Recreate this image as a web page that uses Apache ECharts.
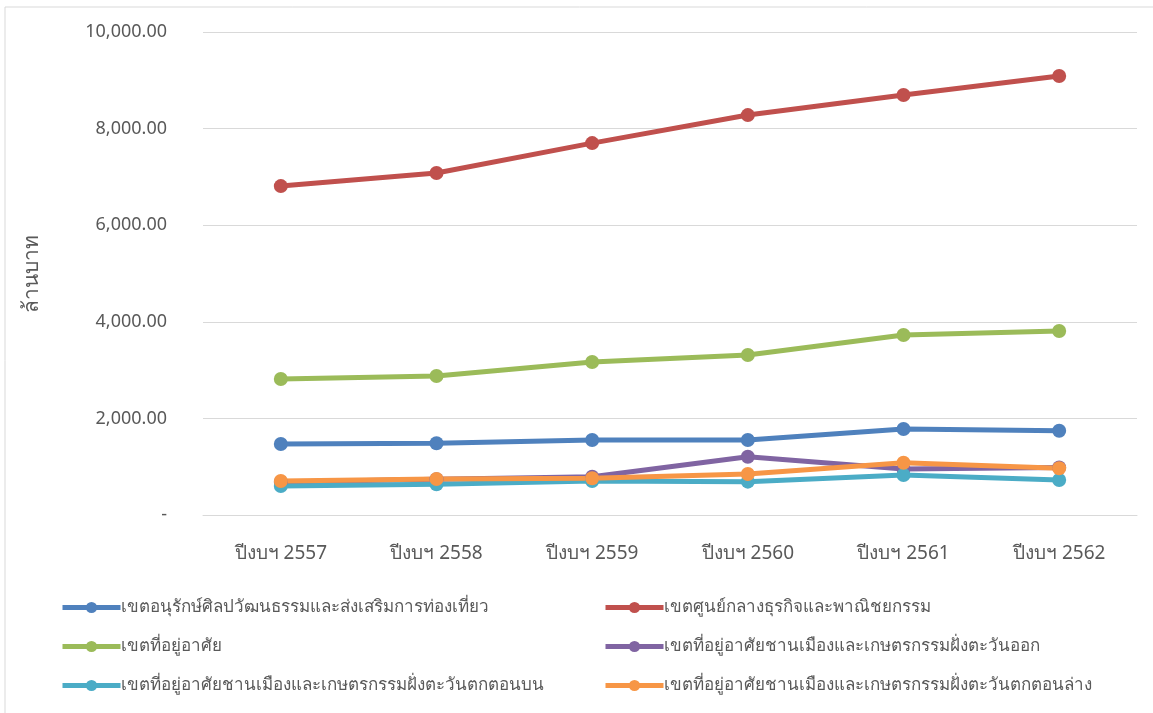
<!DOCTYPE html>
<html><head><meta charset="utf-8">
<script src="https://cdn.jsdelivr.net/npm/echarts@6/dist/echarts.min.js"></script>
<style>html,body{margin:0;padding:0;background:#fff}#c{width:1153px;height:713px}</style>
</head><body><div id="c"></div>
<script>
const categories = ['ปีงบฯ 2557','ปีงบฯ 2558','ปีงบฯ 2559','ปีงบฯ 2560','ปีงบฯ 2561','ปีงบฯ 2562'];
const seriesNames = [
  'เขตอนุรักษ์ศิลปวัฒนธรรมและส่งเสริมการท่องเที่ยว',
  'เขตศูนย์กลางธุรกิจและพาณิชยกรรม',
  'เขตที่อยู่อาศัย',
  'เขตที่อยู่อาศัยชานเมืองและเกษตรกรรมฝั่งตะวันออก',
  'เขตที่อยู่อาศัยชานเมืองและเกษตรกรรมฝั่งตะวันตกตอนบน',
  'เขตที่อยู่อาศัยชานเมืองและเกษตรกรรมฝั่งตะวันตกตอนล่าง'
];
const conservation = [1470, 1484, 1553, 1553, 1780, 1745];
const business = [6810, 7080, 7700, 8280, 8695, 9090];
const residential = [2815, 2878, 3168, 3313, 3727, 3810];
const eastSuburb = [683, 739, 793, 1207, 950, 985];
const westUpper = [600, 636, 704, 690, 828, 725];
const westLower = [704, 745, 760, 849, 1083, 967];
const colors = ['#4F81BD','#C0504D','#9BBB59','#8064A2','#4BACC6','#F79646'];
const allData = [conservation, business, residential, eastSuburb, westUpper, westLower];

const font = "'Noto Sans', 'DejaVu Sans', sans-serif";
const chart = echarts.init(document.getElementById('c'));
const legendCommon = {
  orient: 'vertical', itemWidth: 58, itemHeight: 14, itemGap: 22,
  lineStyle: {width: 5},
  textStyle: {color: '#595959', fontSize: 17, fontFamily: font, padding: [0,0,0,-5]}
};
chart.setOption({
  animation: false,
  graphic: [{type:'rect', shape:{x:5, y:7, width:1160, height:720}, style:{fill:'none', stroke:'#d9d9d9', lineWidth:1}}],
  grid: {left: 203, right: 16, top: 32, bottom: 198},
  legend: [
    Object.assign({left: 55, top: 594, data: [seriesNames[0], seriesNames[2], seriesNames[4]]}, legendCommon),
    Object.assign({left: 598, top: 594, data: [seriesNames[1], seriesNames[3], seriesNames[5]]}, legendCommon)
  ],
  xAxis: {
    type: 'category', data: categories, boundaryGap: true,
    axisLine: {lineStyle: {color: '#d9d9d9', width: 1}},
    axisTick: {show: false},
    axisLabel: {color: '#595959', fontSize: 19, fontFamily: font, margin: 29}
  },
  yAxis: {
    type: 'value', min: 0, max: 10000, interval: 2000,
    name: 'ล้านบาท', nameLocation: 'middle', nameGap: 160, nameRotate: 90,
    nameTextStyle: {color: '#595959', fontSize: 21, fontFamily: font},
    axisLine: {show: false}, axisTick: {show: false},
    splitLine: {lineStyle: {color: '#d9d9d9', width: 1}},
    axisLabel: {
      color: '#595959', fontSize: 18, fontFamily: font, margin: 36,
      formatter: v => v === 0 ? '-' : v.toLocaleString('en-US', {minimumFractionDigits: 2, maximumFractionDigits: 2})
    }
  },
  series: seriesNames.map((n, i) => ({
    name: n, type: 'line', data: allData[i], color: colors[i],
    symbol: 'circle', symbolSize: 14,
    lineStyle: {width: 5, color: colors[i]},
    itemStyle: {color: colors[i]}
  }))
});
</script></body></html>
